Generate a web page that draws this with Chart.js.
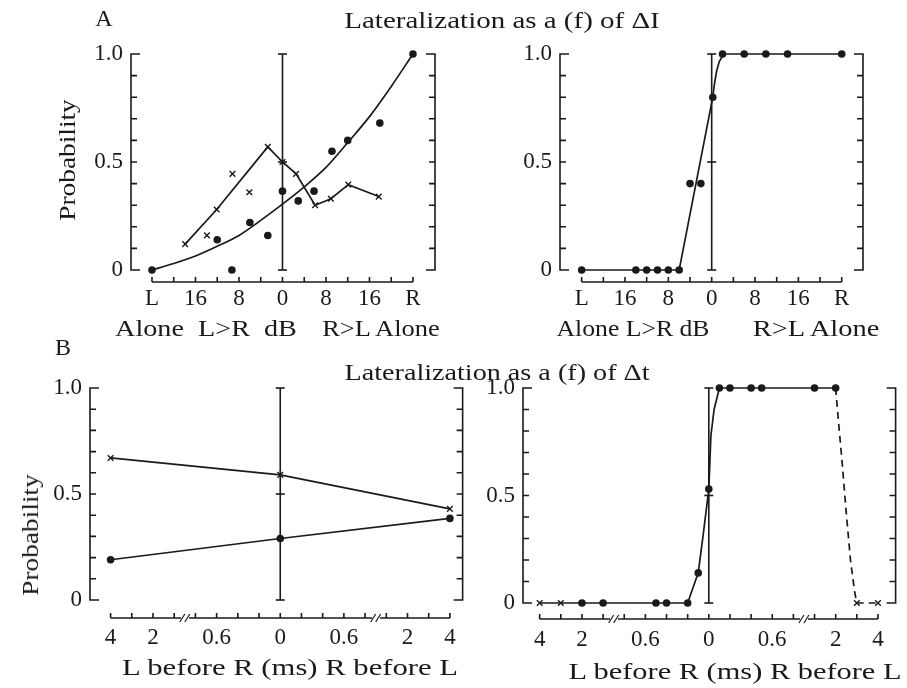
<!DOCTYPE html>
<html>
<head>
<meta charset="utf-8">
<script src="https://cdn.jsdelivr.net/npm/chart.js@4.4.1/dist/chart.umd.min.js"></script>
<style>
  html, body { margin: 0; padding: 0; background: #fff; }
  #page { position: relative; width: 907px; height: 688px; overflow: hidden; background: #fff; }
  canvas { position: absolute; }
  .t { position: absolute; white-space: pre; color: #1a1a1a;
       font-family: 'Liberation Serif', 'Times New Roman', serif; font-size: 24px; line-height: 1; }
</style>
</head>
<body>
<div id="page">
  <canvas id="aLeft"  width="450" height="320" style="left:0;top:0"></canvas>
  <canvas id="aRight" width="420" height="320" style="left:460px;top:0"></canvas>
  <canvas id="bLeft"  width="480" height="348" style="left:0;top:340px"></canvas>
  <canvas id="bRight" width="427" height="348" style="left:480px;top:340px"></canvas>

  <div class="t" data-x="104" data-y="18">A</div>
  <div class="t" data-x="502" data-y="20" data-w="315">Lateralization as a (f) of ΔI</div>
  <div class="t" data-x="67" data-y="160" data-w="122" data-rot="1">Probability</div>
  <div class="t" data-x="206" data-y="328" data-w="182">Alone  L&gt;R  dB</div>
  <div class="t" data-x="381" data-y="328" data-w="118">R&gt;L Alone</div>
  <div class="t" data-x="633" data-y="328" data-w="153">Alone L&gt;R dB</div>
  <div class="t" data-x="816" data-y="328" data-w="127">R&gt;L Alone</div>

  <div class="t" data-x="63" data-y="347">B</div>
  <div class="t" data-x="497" data-y="372" data-w="305">Lateralization as a (f) of Δt</div>
  <div class="t" data-x="30" data-y="535" data-w="122" data-rot="1">Probability</div>
  <div class="t" data-x="290" data-y="667" data-w="336">L before R (ms) R before L</div>
  <div class="t" data-x="735" data-y="671" data-w="333">L before R (ms) R before L</div>
</div>

<script>
const INK = '#1a1a1a';

// shared y axis
const probTicks = [0, 0.1, 0.2, 0.3, 0.4, 0.5, 0.6, 0.7, 0.8, 0.9, 1.0];
const probTickLabels = ['0', '', '', '', '', '0.5', '', '', '', '', '1.0'];

// A: level difference in dB (negative = L>R, positive = R>L, ±24 = one ear alone)
const dbTicks = [-24, -20, -16, -12, -8, -4, 0, 4, 8, 12, 16, 20, 24];
const dbTickLabels = ['L', '', '16', '', '8', '', '0', '', '8', '', '16', '', 'R'];

// A left - dots, fitted curve, crosses
const aDotDb   = [-24, -12, -9.3, -6, -2.7, 0, 2.9, 5.8, 9.1, 12, 17.9, 24];
const aDotProb = [0, 0.14, 0, 0.22, 0.16, 0.365, 0.32, 0.365, 0.55, 0.60, 0.68, 1.0];
const aFitDb   = [-24, -20, -16, -12, -8, -4, 0, 4, 8, 12, 16, 20, 24];
const aFitProb = [0, 0.03, 0.065, 0.11, 0.16, 0.23, 0.305, 0.385, 0.475, 0.59, 0.71, 0.85, 1.0];
const aCrossDb   = [-17.9, -13.9, -12.1, -9.2, -6.1, -2.7, 0, 2.5, 6, 8.9, 12.1, 17.7];
const aCrossProb = [0.12, 0.16, 0.28, 0.445, 0.36, 0.57, 0.50, 0.445, 0.30, 0.33, 0.395, 0.34];
const aCrossJoined = [0, 2, 5, 6, 7, 8, 9, 10, 11];

// A right
const bDotDb   = [-24, -14, -12, -10, -8, -6, -4, -2, 0.2, 2, 6, 10, 14, 24];
const bDotProb = [0, 0, 0, 0, 0, 0, 0.40, 0.40, 0.80, 1, 1, 1, 1, 1];
const bFitDb   = [-24, -6, 0.2, 0.5, 0.9, 1.4, 2, 2.6, 24];
const bFitProb = [0, 0, 0.80, 0.86, 0.92, 0.965, 0.99, 1.0, 1.0];

// B: time difference on a broken axis (positions 0..16)
const msTicks = [0, 1, 2, 3, 4, 5, 6, 7, 8, 9, 10, 11, 12, 13, 14, 15, 16];
const msTickLabels = ['4', '', '2', '', '', '0.6', '', '', '0', '', '', '0.6', '', '', '2', '', '4'];
const msBreaks = [3.5, 12.5];

// B left
const cPos = [0, 8, 16];
const cCrossProb = [0.67, 0.59, 0.43];
const cDotProb = [0.19, 0.29, 0.385];

// B right
const dDotPos  = [2, 3, 5.5, 6, 7, 7.5, 8, 8.5, 9, 10, 10.5, 13, 14];
const dDotProb = [0, 0, 0, 0, 0, 0.14, 0.53, 1, 1, 1, 1, 1, 1];
const dCrossPos  = [0, 1, 15, 16];
const dCrossProb = [0, 0, 0, 0];
const dFitPos  = [0, 1, 2, 3, 5.5, 6, 7, 7.5, 7.75, 8, 8.1, 8.25, 8.5, 9, 10, 10.5, 13, 14];
const dFitProb = [0, 0, 0, 0, 0, 0, 0, 0.14, 0.33, 0.53, 0.78, 0.9, 1, 1, 1, 1, 1, 1];
const dDashPos  = [14, 14.1, 14.3, 14.5, 14.7, 14.9, 15, 16];
const dDashProb = [1, 0.88, 0.66, 0.42, 0.2, 0.05, 0, 0];

const centerProb = [0, 0.5, 1];

// text sizing (scan type is wider than Times)
document.querySelectorAll('.t').forEach(el => {
  const w = +el.dataset.w;
  const s = w ? w / el.offsetWidth : 1;
  el.style.left = el.dataset.x + 'px';
  el.style.top = el.dataset.y + 'px';
  el.style.transform = 'translate(-50%,-50%)' + (el.dataset.rot ? ' rotate(-90deg)' : '') + ' scaleX(' + s + ')';
});

Chart.defaults.font.family = "'Liberation Serif', 'Times New Roman', serif";
Chart.defaults.font.size = 23;
Chart.defaults.color = INK;

const pts = (xs, ys) => xs.map((x, i) => ({ x: x, y: ys[i] }));

const dots = (xs, ys) => ({ data: pts(xs, ys), pointStyle: 'circle', pointRadius: 3.8,
  backgroundColor: INK, borderWidth: 0, showLine: false, clip: false });
const crosses = (xs, ys) => ({ data: pts(xs, ys), pointStyle: 'crossRot', pointRadius: 4,
  borderColor: INK, borderWidth: 1.4, showLine: false, clip: false });
const line = (xs, ys, extra) => Object.assign({ data: pts(xs, ys), showLine: true, pointRadius: 0,
  borderColor: INK, borderWidth: 1.7, tension: 0, clip: false }, extra || {});
const center = (x) => ({ data: centerProb.map(p => ({ x: x, y: p })), showLine: true,
  pointStyle: 'line', pointRadius: 4.5, pointBorderColor: INK, pointBorderWidth: 1.6,
  borderColor: INK, borderWidth: 1.6, clip: false });

// bracket axes, inward ticks, detached x axis with breaks
const framePlugin = {
  id: 'frame',
  afterDraw(chart, args, opts) {
    const { ctx, chartArea: a, scales: { x, y } } = chart;
    const top = y.getPixelForValue(1), bot = y.getPixelForValue(0);
    ctx.save();
    ctx.strokeStyle = INK;
    ctx.lineWidth = 1.6;
    ctx.beginPath();
    [[a.left, 1], [a.right, -1]].forEach(([ax, dir]) => {
      ctx.moveTo(ax + dir * 9, top);
      ctx.lineTo(ax, top);
      ctx.lineTo(ax, bot);
      ctx.lineTo(ax + dir * 9, bot);
      y.ticks.forEach(t => {
        const py = y.getPixelForValue(t.value);
        ctx.moveTo(ax, py);
        ctx.lineTo(ax + dir * 6, py);
      });
    });
    const ay = a.bottom + opts.gap;
    const first = x.getPixelForValue(x.ticks[0].value);
    const last = x.getPixelForValue(x.ticks[x.ticks.length - 1].value);
    ctx.moveTo(first, ay);
    ctx.lineTo(last, ay);
    x.ticks.forEach(t => {
      const px = x.getPixelForValue(t.value);
      ctx.moveTo(px, ay);
      ctx.lineTo(px, ay - 5);
    });
    ctx.stroke();
    (opts.breaks || []).forEach(b => {
      const px = x.getPixelForValue(b);
      ctx.clearRect(px - 4, ay - 2, 8, 4);
      ctx.beginPath();
      [-2.5, 2.5].forEach(dx => {
        ctx.moveTo(px + dx - 2.5, ay + 4);
        ctx.lineTo(px + dx + 2.5, ay - 4);
      });
      ctx.lineWidth = 1.2;
      ctx.stroke();
    });
    ctx.restore();
  }
};

function panel(id, c) {
  return new Chart(document.getElementById(id), {
    type: 'scatter',
    data: { datasets: c.datasets },
    options: {
      responsive: false,
      animation: false,
      devicePixelRatio: 1,
      events: [],
      layout: { padding: { top: c.padTop, right: c.padRight, left: 0, bottom: 0 } },
      plugins: {
        legend: { display: false },
        tooltip: { enabled: false },
        frame: { gap: c.gap, breaks: c.breaks }
      },
      scales: {
        x: {
          type: 'linear', min: c.xMin, max: c.xMax,
          grid: { display: false, drawTicks: false }, border: { display: false },
          afterBuildTicks: s => { s.ticks = c.xTicks.map(v => ({ value: v })); },
          afterFit: s => { s.height = c.xHeight; },
          ticks: { padding: c.xPad, autoSkip: false, maxRotation: 0, callback: (v, i) => c.xLabels[i] }
        },
        y: {
          type: 'linear', min: 0, max: 1,
          grid: { display: false, drawTicks: false }, border: { display: false },
          afterBuildTicks: s => { s.ticks = probTicks.map(v => ({ value: v })); },
          afterFit: s => { s.width = c.yWidth; },
          ticks: { padding: 8, autoSkip: false, callback: (v, i) => probTickLabels[i] }
        }
      }
    },
    plugins: [framePlugin]
  });
}

panel('aLeft', {
  padTop: 54, padRight: 15, yWidth: 131, xHeight: 50, xPad: 15, gap: 12,
  xMin: -27.86, xMax: 28.05, xTicks: dbTicks, xLabels: dbTickLabels,
  datasets: [
    line(aFitDb, aFitProb, { cubicInterpolationMode: 'monotone' }),
    line(aCrossJoined.map(i => aCrossDb[i]), aCrossJoined.map(i => aCrossProb[i])),
    dots(aDotDb, aDotProb),
    crosses(aCrossDb, aCrossProb),
    center(0)
  ]
});

panel('aRight', {
  padTop: 54, padRight: 17, yWidth: 100, xHeight: 50, xPad: 15, gap: 12,
  xMin: -28.0, xMax: 27.93, xTicks: dbTicks, xLabels: dbTickLabels,
  datasets: [
    line(bFitDb, bFitProb),
    dots(bDotDb, bDotProb),
    center(0)
  ]
});

panel('bLeft', {
  padTop: 48, padRight: 10, yWidth: 90, xHeight: 88, xPad: 24, gap: 18, breaks: msBreaks,
  xMin: -0.971, xMax: 16.6, xTicks: msTicks, xLabels: msTickLabels,
  datasets: [
    line(cPos, cCrossProb),
    line(cPos, cDotProb),
    dots(cPos, cDotProb),
    crosses(cPos, cCrossProb),
    center(8)
  ]
});

panel('bRight', {
  padTop: 48, padRight: 4, yWidth: 43, xHeight: 85, xPad: 23, gap: 16, breaks: msBreaks,
  xMin: -0.788, xMax: 16.835, xTicks: msTicks, xLabels: msTickLabels,
  datasets: [
    line(dFitPos, dFitProb),
    line(dDashPos, dDashProb, { borderDash: [7, 5] }),
    dots(dDotPos, dDotProb),
    crosses(dCrossPos, dCrossProb),
    center(8)
  ]
});
</script>
</body>
</html>
